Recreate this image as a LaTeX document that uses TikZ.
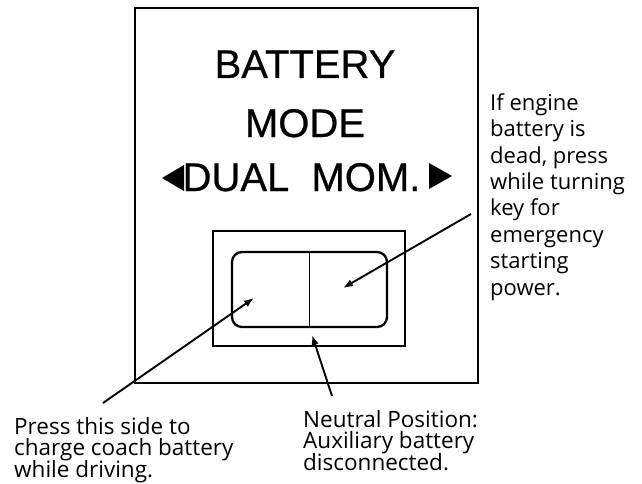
\documentclass[tikz,border=0pt]{standalone}
\usepackage{fontspec}
\setmainfont{Open Sans}
\newfontfamily\panelfont[FakeBold=0.6]{Liberation Sans}
\usetikzlibrary{arrows.meta}
\AtBeginDocument{\lineskiplimit=-100pt\relax}

\tikzset{
  legend/.style={anchor=base, inner sep=0pt, font=\panelfont\fontsize{40}{40}\selectfont},
  note/.style={anchor=base west, align=left, inner sep=0pt, font=\fontsize{22}{26.4}\selectfont},
  pointer/.style={line width=1.9pt, -{Latex[length=10pt,width=7.5pt]}},
}

\begin{document}
\begin{tikzpicture}[x=1pt,y=-1pt]
	\useasboundingbox (0,0) rectangle (642,484);

	% панель
	\draw[line width=1.9pt] (135,8) rectangle (478,383);
	\node[legend] (title) at (305,78) {BATTERY};
	\node[legend] (mode) at (305,137) {MODE};
	\node[legend] (dual) at (301.5,191) {DUAL\ \ MOM.};
	\fill (162,178) -- (184,165) -- (184,191) -- cycle;
	\fill (452,176) -- (429,163) -- (429,189) -- cycle;

	% переключатель
	\node[draw, line width=1.9pt, minimum width=192pt, minimum height=115pt, inner sep=0pt] (bezel) at (309,288.5) {};
	\node[draw, line width=2.3pt, rounded corners=10pt, minimum width=155pt, minimum height=75pt, inner sep=0pt] (rocker) at (309.5,289.5) {};
	\draw[line width=1.9pt] (rocker.north) -- (rocker.south);

	% подписи (base = последняя строка)
	\node[note] (engineNote) at (490,295) {If engine\\battery is\\dead, press\\while turning\\key for\\emergency\\starting\\power.};
	\node[note, font=\fontsize{22.5}{21.3}\selectfont] (chargeNote) at (14,477) {Press this side to\\charge coach battery\\while driving.};
	\node[note, font=\fontsize{22.5}{21.3}\selectfont] (neutralNote) at (303,470) {Neutral Position:\\Auxiliary battery\\disconnected.};

	% стрелки
	\coordinate (chargeTail) at (103,403);
	\coordinate (chargeTip) at (254,298);
	\coordinate (engineTail) at (471,214);
	\coordinate (engineTip) at (343,288);
	\coordinate (neutralTail) at (332,396);
	\coordinate (neutralTip) at (312,335);
	\draw[pointer] (chargeTail) -- (chargeTip);
	\draw[pointer] (engineTail) -- (engineTip);
	\draw[pointer] (neutralTail) -- (neutralTip);
\end{tikzpicture}
\end{document}
